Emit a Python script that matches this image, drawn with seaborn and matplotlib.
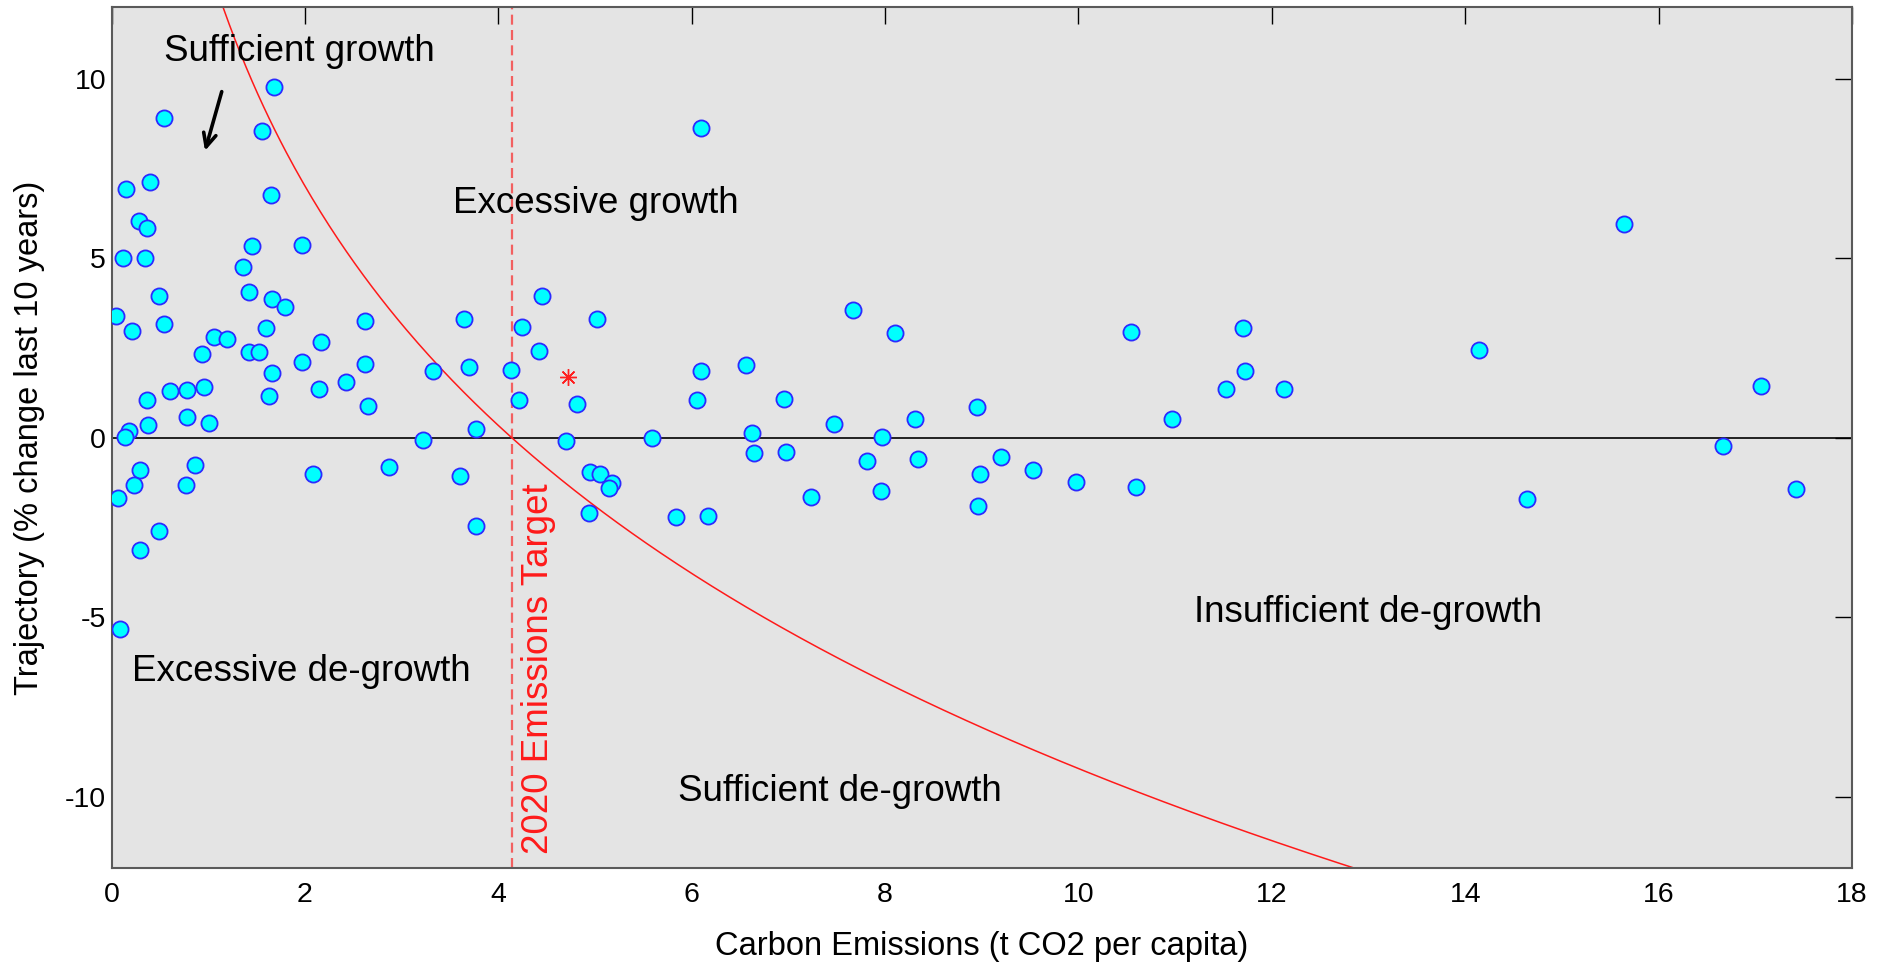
import numpy as np
import pandas as pd
import matplotlib
matplotlib.use("Agg")
import matplotlib.pyplot as plt
from matplotlib import font_manager
import seaborn as sns

# Per-capita emissions (t CO2) and 10-year trajectory (% change) by country
emissions = [
    0.042, 0.49, 0.211, 0.545, 1.42, 1.656, 1.796, 1.594, 1.059, 1.197,
    1.42, 1.524, 0.932, 1.656, 1.628, 1.966, 2.169, 2.148, 2.427, 2.617,
    2.617, 2.648, 0.363, 0.604, 0.78, 0.952, 0.373, 0.78, 1.004, 0.183,
    0.135, 3.217, 3.765, 3.323, 3.70, 3.648, 4.13, 4.244, 4.448, 4.42,
    5.02, 0.297, 0.232, 0.063, 0.866, 0.769, 2.086, 2.866, 3.60, 3.765,
    0.49, 0.297, 0.087, 1.68, 0.545, 1.552, 0.394, 0.149, 1.648, 0.287,
    0.366, 0.115, 0.342, 1.455, 1.969, 1.356, 4.213, 4.813, 6.054, 6.95,
    4.70, 5.59, 6.62, 6.64, 6.98, 7.47, 7.97, 8.31, 8.95, 7.81,
    8.34, 9.20, 8.98, 7.96, 7.23, 8.96, 4.947, 5.05, 5.18, 5.14,
    4.94, 5.84, 6.17, 6.095, 7.67, 8.10, 6.095, 6.56, 10.54, 11.70,
    11.72, 11.53, 12.13, 10.97, 14.14, 9.53, 9.97, 10.60, 15.64, 17.06,
    16.67, 14.64, 17.42,
]
trajectory = [
    3.40, 3.95, 2.99, 3.16, 4.06, 3.88, 3.66, 3.07, 2.82, 2.75,
    2.39, 2.39, 2.33, 1.81, 1.17, 2.12, 2.68, 1.35, 1.55, 3.27,
    2.07, 0.89, 1.06, 1.30, 1.32, 1.41, 0.37, 0.57, 0.42, 0.20,
    0.03, -0.07, 0.25, 1.87, 1.97, 3.30, 1.89, 3.08, 3.95, 2.42,
    3.31, -0.91, -1.31, -1.69, -0.76, -1.31, -1.02, -0.81, -1.07, -2.46,
    -2.60, -3.12, -5.32, 9.79, 8.91, 8.55, 7.14, 6.94, 6.77, 6.05,
    5.84, 5.00, 5.00, 5.35, 5.37, 4.75, 1.05, 0.94, 1.05, 1.08,
    -0.09, -0.01, 0.14, -0.41, -0.39, 0.39, 0.03, 0.53, 0.85, -0.65,
    -0.59, -0.53, -1.02, -1.48, -1.65, -1.91, -0.94, -1.02, -1.27, -1.39,
    -2.09, -2.20, -2.17, 8.64, 3.56, 2.93, 1.86, 2.04, 2.96, 3.07,
    1.86, 1.35, 1.35, 0.52, 2.44, -0.91, -1.22, -1.36, 5.96, 1.45,
    -0.24, -1.71, -1.43,
]

# Highlighted country
highlight_emissions = [4.717]
highlight_trajectory = [1.69]

# 2020 per-capita emissions target and the horizon used for the trajectory
target = 4.14
horizon_years = 10

x_ticks = [0, 2, 4, 6, 8, 10, 12, 14, 16, 18]
y_ticks = [-10, -5, 0, 5, 10]

df = pd.DataFrame({"emissions": emissions, "trajectory": trajectory})

sns.set_theme(style="white")
installed = {f.name for f in font_manager.fontManager.ttflist}
narrow = "Liberation Sans Narrow" if "Liberation Sans Narrow" in installed else "Liberation Sans"
plt.rcParams["font.family"] = ["Liberation Sans", "DejaVu Sans"]
plt.rcParams["axes.unicode_minus"] = False
plt.rcParams["text.color"] = "black"
plt.rcParams["axes.labelcolor"] = "black"
plt.rcParams["xtick.color"] = "black"
plt.rcParams["ytick.color"] = "black"

fig = plt.figure(figsize=(18.79, 9.65), dpi=100)
ax = fig.add_axes([0.0594, 0.1002, 0.9262, 0.8922])
ax.set_facecolor("#e4e4e4")

# Trajectory required to land exactly on the target over the horizon
curve_x = np.linspace(0.3, 18, 600)
curve_y = 100 * (1 - (curve_x / target) ** (1 / horizon_years))
ax.plot(curve_x, curve_y, color="#ff1a1a", lw=1.1, zorder=2)

ax.axhline(0, color="black", lw=1.2, zorder=1)
ax.axvline(target, color="#f26060", lw=1.6, dashes=(4.5, 2.4), zorder=1)

sns.scatterplot(data=df, x="emissions", y="trajectory", ax=ax, s=135,
                color="#00ffff", edgecolor="#2b2bff", linewidth=1.3, zorder=3)
ax.plot(highlight_emissions, highlight_trajectory, linestyle="none",
        marker=(8, 2, 0), markersize=12, markeredgewidth=1.0,
        color="#ff2020", zorder=4)

ax.set_xlim(0, 18)
ax.set_ylim(-12, 12)
ax.set_xticks(x_ticks)
ax.set_yticks(y_ticks)
ax.tick_params(direction="in", length=12.5, width=1.0, color="black",
               labelcolor="black", top=True, right=True, labelsize=20.5)
ax.tick_params(axis="x", pad=10)
ax.tick_params(axis="y", pad=4)
for lab in ax.get_xticklabels() + ax.get_yticklabels():
    lab.set_fontfamily(narrow)
for sp in ax.spines.values():
    sp.set_color("#5a5a5a")
    sp.set_linewidth(1.5)

ax.set_xlabel("Carbon Emissions (t CO2 per capita)", fontsize=23.5,
              fontfamily=narrow, va="center", color="black")
ax.set_ylabel("Trajectory (% change last 10 years)", fontsize=23.5,
              fontfamily=narrow, va="center", color="black")
ax.xaxis.set_label_coords(0.5, -0.0914)
ax.yaxis.set_label_coords(-0.0469, 0.5)

region_font = 26.5
ax.text(0.544, 10.50, "Sufficient growth", fontsize=region_font, va="baseline", color="black")
ax.text(3.527, 6.27, "Excessive growth", fontsize=region_font, va="baseline", color="black")
ax.text(0.208, -6.78, "Excessive de-growth", fontsize=region_font, va="baseline", color="black")
ax.text(11.19, -5.13, "Insufficient de-growth", fontsize=region_font, va="baseline", color="black")
ax.text(5.86, -10.12, "Sufficient de-growth", fontsize=region_font, va="baseline", color="black")
ax.text(4.513, -11.59, "2020 Emissions Target", fontsize=region_font,
        color="#ff1a1a", rotation=90, rotation_mode="anchor",
        ha="left", va="baseline")

ax.annotate("", xy=(0.966, 8.00), xytext=(1.139, 9.65),
            arrowprops=dict(arrowstyle="->,head_length=0.8,head_width=0.38",
                            color="black", lw=2.6, shrinkA=0, shrinkB=0))

fig.savefig("out.png", dpi=100)
